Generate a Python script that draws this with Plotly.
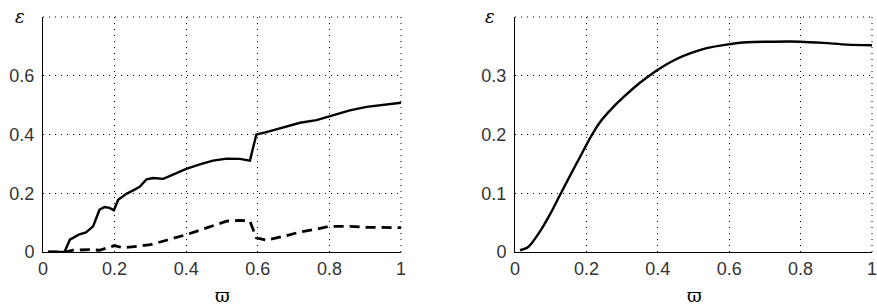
import plotly.graph_objects as go

# Left panel: solid curve
left_solid_x = [0.014, 0.06, 0.075, 0.10, 0.12, 0.14, 0.158, 0.172, 0.186, 0.198, 0.21, 0.233, 0.252, 0.27,
                0.289, 0.308, 0.336, 0.363, 0.40, 0.438, 0.475, 0.513, 0.55, 0.578, 0.587, 0.596, 0.624,
                0.671, 0.718, 0.764, 0.811, 0.857, 0.904, 0.95, 1.0]
left_solid_y = [0.0, 0.0, 0.042, 0.059, 0.067, 0.0875, 0.144, 0.153, 0.150, 0.142, 0.178, 0.198, 0.21, 0.222,
                0.247, 0.252, 0.249, 0.264, 0.283, 0.298, 0.311, 0.318, 0.317, 0.311, 0.36, 0.40, 0.408,
                0.423, 0.44, 0.449, 0.465, 0.482, 0.494, 0.501, 0.508]
# Left panel: dashed curve
left_dash_x = [0.014, 0.06, 0.084, 0.13, 0.158, 0.18, 0.20, 0.224, 0.252, 0.30, 0.345, 0.40, 0.457, 0.513,
               0.55, 0.578, 0.596, 0.624, 0.671, 0.718, 0.764, 0.80, 0.857, 0.904, 1.0]
left_dash_y = [0.0, 0.0, 0.006, 0.008, 0.006, 0.014, 0.022, 0.014, 0.019, 0.025, 0.04, 0.059, 0.082, 0.105,
               0.108, 0.105, 0.048, 0.040, 0.053, 0.068, 0.078, 0.0875, 0.0875, 0.084, 0.083]
# Right panel curve
right_x = [0.014, 0.037, 0.07, 0.098, 0.126, 0.163, 0.191, 0.215, 0.238, 0.271, 0.303, 0.35, 0.397, 0.444,
           0.49, 0.537, 0.593, 0.65, 0.724, 0.80, 0.864, 0.93, 1.0]
right_y = [0.003, 0.0085, 0.035, 0.064, 0.097, 0.14, 0.172, 0.199, 0.221, 0.244, 0.263, 0.288, 0.309, 0.326,
           0.338, 0.347, 0.353, 0.357, 0.358, 0.358, 0.356, 0.353, 0.352]

x_ticks = [0, 0.2, 0.4, 0.6, 0.8, 1]
x_ticktext = ["0", "0.2", "0.4", "0.6", "0.8", "1"]
left_y_ticks = [0, 0.2, 0.4, 0.6]
left_y_ticktext = ["0", "0.2", "0.4", "0.6"]
right_y_ticks = [0, 0.1, 0.2, 0.3]
right_y_ticktext = ["0", "0.1", "0.2", "0.3"]

W, H = 877, 307
fig = go.Figure()
fig.add_trace(go.Scatter(x=left_solid_x, y=left_solid_y, mode="lines",
                         line=dict(color="black", width=2.4), xaxis="x", yaxis="y"))
fig.add_trace(go.Scatter(x=left_dash_x, y=left_dash_y, mode="lines",
                         line=dict(color="black", width=2.8, dash="10px,6px"), xaxis="x", yaxis="y"))
fig.add_trace(go.Scatter(x=right_x, y=right_y, mode="lines",
                         line=dict(color="black", width=2.4, shape="spline", smoothing=0.8),
                         xaxis="x2", yaxis="y2"))

tickfont = dict(family="Liberation Sans, Arial, sans-serif", size=18, color="#333")
GRIDDASH = "1px,5px"
axcommon = dict(showline=True, linecolor="black", linewidth=1, showgrid=True, gridcolor="black",
                gridwidth=1, griddash=GRIDDASH, zeroline=False, ticks="", tickfont=tickfont,
                tickmode="array", automargin=False, ticklabeloverflow="allow")

fig.update_layout(
    width=W, height=H, margin=dict(l=0, r=0, t=0, b=0),
    paper_bgcolor="white", plot_bgcolor="white", showlegend=False,
    xaxis=dict(domain=[43 / W, 401 / W], range=[0, 1], tickvals=x_ticks, ticktext=x_ticktext,
               anchor="y", **axcommon),
    yaxis=dict(domain=[55 / H, 290 / H], range=[0, 0.8], tickvals=left_y_ticks,
               ticktext=left_y_ticktext, anchor="x", ticklabelstandoff=4, **axcommon),
    xaxis2=dict(domain=[515 / W, 872 / W], range=[0, 1], tickvals=x_ticks, ticktext=x_ticktext,
                anchor="y2", **axcommon),
    yaxis2=dict(domain=[55 / H, 290 / H], range=[0, 0.4], tickvals=right_y_ticks,
                ticktext=right_y_ticktext, anchor="x2", ticklabelstandoff=4, **axcommon),
)

# dotted top and right borders (grid lines at the range ends)
for xr, yr in [("x domain", "y domain"), ("x2 domain", "y2 domain")]:
    fig.add_shape(type="line", xref=xr, yref=yr, x0=0, x1=1, y0=1, y1=1,
                  line=dict(color="black", width=1, dash=GRIDDASH))
    fig.add_shape(type="line", xref=xr, yref=yr, x0=1, x1=1, y0=0, y1=1,
                  line=dict(color="black", width=1, dash=GRIDDASH))

labfont = dict(family="DejaVu Serif, serif", size=18, color="black")
for xp, txt, yp in [(20, "<i>ε</i>", 16), (490, "<i>ε</i>", 16), (222, "ϖ", 295), (694, "ϖ", 295)]:
    fig.add_annotation(text=txt, x=xp / W, y=1 - yp / H, xref="paper", yref="paper",
                       showarrow=False, font=labfont, xanchor="center", yanchor="middle")

fig.write_html("out.html", config={"displayModeBar": False},
               post_script="document.body.style.margin='0';document.body.style.overflow='hidden';")
